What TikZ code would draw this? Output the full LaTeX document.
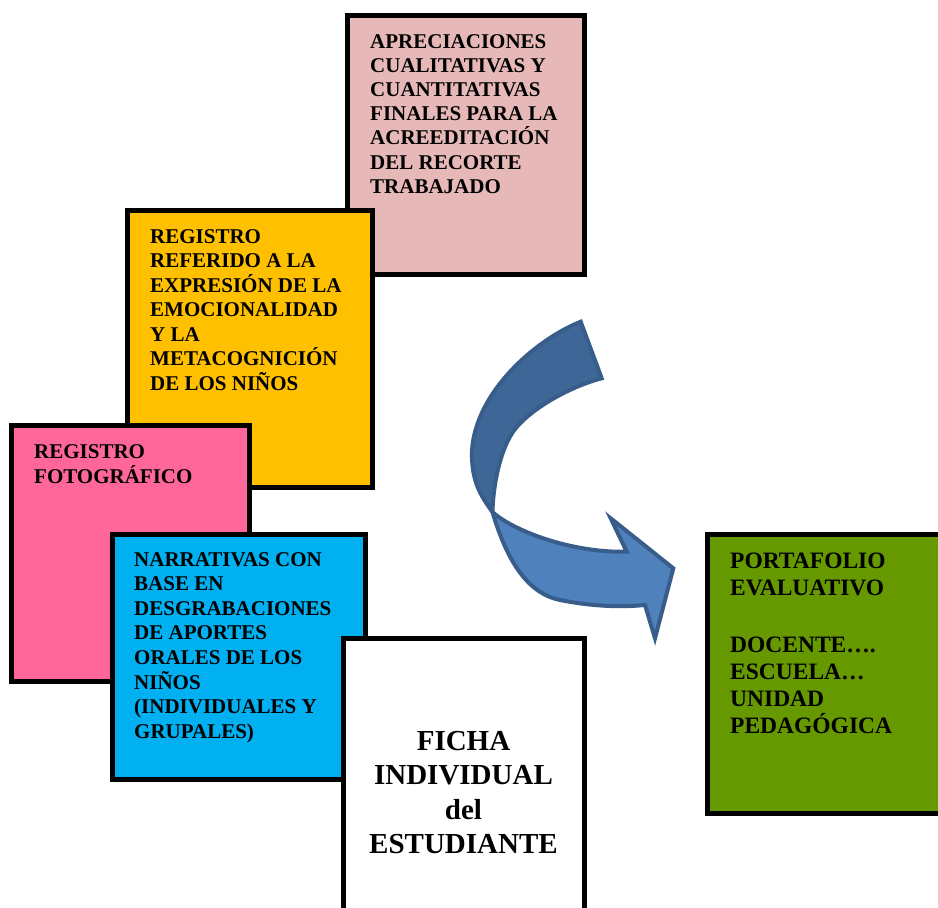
\documentclass[tikz,border=0pt]{standalone}
\usepackage{fontspec}
\setmainfont{Liberation Serif}
\definecolor{pinkA}{HTML}{E6B9B8}
\definecolor{yellowB}{HTML}{FFC000}
\definecolor{pinkC}{HTML}{FF6699}
\definecolor{blueD}{HTML}{00B0F0}
\definecolor{greenE}{HTML}{669900}
\definecolor{arrowdark}{HTML}{3E6798}
\definecolor{arrowlight}{HTML}{4F81BD}
\definecolor{arrowline}{HTML}{385D8A}
\begin{document}
\begin{tikzpicture}[x=1pt,y=-1pt,
  box/.style={draw=black, line width=5pt, inner sep=0pt, outer sep=0pt, anchor=north west},
  boxtext/.style={anchor=north west, align=left, inner sep=0pt, font=\bfseries\fontsize{21}{24.5}\selectfont},
  ribbon/.style={draw=arrowline, line width=4pt, line join=miter}]
\useasboundingbox (0,0) rectangle (938,908);
\clip (0,0) rectangle (938,908);
% boxes
\node[box, fill=pinkA, minimum width=237pt, minimum height=259pt] (apre) at (347.5,15.5) {};
\node[boxtext, font=\bfseries\fontsize{21}{24.2}\selectfont] (apretxt) at (370,34) {APRECIACIONES\\CUALITATIVAS Y\\CUANTITATIVAS\\FINALES PARA LA\\ACREEDITACIÓN\\DEL RECORTE\\TRABAJADO};
\node[box, fill=yellowB, minimum width=245pt, minimum height=277pt] (emo) at (127.5,210.5) {};
\node[boxtext] (emotxt) at (150,229) {REGISTRO\\REFERIDO A LA\\EXPRESIÓN DE LA\\EMOCIONALIDAD\\Y LA\\METACOGNICIÓN\\DE LOS NIÑOS};
\node[box, fill=pinkC, minimum width=238pt, minimum height=256pt] (foto) at (11.5,425.5) {};
\node[boxtext, font=\bfseries\fontsize{21}{25}\selectfont] (fototxt) at (34,444) {REGISTRO\\FOTOGRÁFICO};
\node[box, fill=blueD, minimum width=253pt, minimum height=245pt] (narr) at (112.5,534.5) {};
\node[boxtext, font=\bfseries\fontsize{21}{24.6}\selectfont] (narrtxt) at (134,552) {NARRATIVAS CON\\BASE EN\\DESGRABACIONES\\DE APORTES\\ORALES DE LOS\\NIÑOS\\(INDIVIDUALES Y\\GRUPALES)};
\node[box, fill=white, minimum width=241pt, minimum height=300pt] (ficha) at (343,638) {};
\node[anchor=north, align=center, inner sep=0pt, font=\bfseries\fontsize{29}{34.3}\selectfont] (fichatxt) at (463.5,731) {FICHA\\INDIVIDUAL\\del\\ESTUDIANTE};
\node[box, fill=greenE, minimum width=260pt, minimum height=279pt] (port) at (707.5,534.5) {};
\node[boxtext, font=\bfseries\fontsize{23.5}{27}\selectfont] (porttxt) at (730,552.5) {PORTAFOLIO\\EVALUATIVO\\[30pt]DOCENTE….\\ESCUELA…\\UNIDAD\\PEDAGÓGICA};
% curved arrow
\coordinate (tailA) at (580.7,321.7);
\coordinate (tailB) at (601.7,378.3);
\coordinate (joint) at (492.5,512);
\coordinate (notchU) at (626.7,551.7);
\coordinate (barbU) at (610.7,518.3);
\coordinate (tip) at (673.3,568.3);
\coordinate (barbL) at (655,638.3);
\coordinate (notchL) at (645,605);
\draw[ribbon, fill=arrowdark] (tailA) .. controls (535,340) and (476,392) .. (472,450)
  .. controls (471,480) and (480,495) .. (joint)
  .. controls (493,490) and (498,458) .. (510,436.7)
  .. controls (522,414) and (565,388) .. (tailB) -- cycle;
\draw[ribbon, fill=arrowlight] (joint) .. controls (512,530) and (570,553) .. (notchU)
  -- (barbU) -- (tip) -- (barbL) -- (notchL)
  .. controls (615,608) and (585,605) .. (560,600)
  .. controls (530,594) and (508,565) .. (joint) -- cycle;
\end{tikzpicture}
\end{document}
